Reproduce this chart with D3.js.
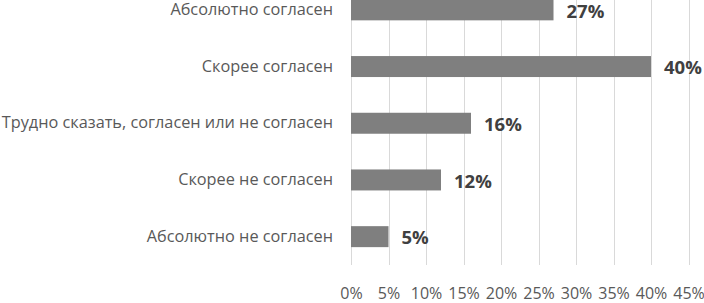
<!DOCTYPE html>
<html>
<head>
<meta charset="utf-8">
<script src="https://cdn.jsdelivr.net/npm/d3@7"></script>
<style>
  body { margin: 0; background: #fff; }
  svg { display: block; font-family: "Open Sans", sans-serif; }
</style>
</head>
<body>
<svg id="chart"></svg>
<script>
const categories = ["Абсолютно согласен", "Скорее согласен", "Трудно сказать, согласен или не согласен", "Скорее не согласен", "Абсолютно не согласен"];
const values = [27, 40, 16, 12, 5];
const ticks = [0, 5, 10, 15, 20, 25, 30, 35, 40, 45];

const width = 704, height = 303;
const margin = {top: -18.5, left: 351, right: 15.5, bottom: 38};

const svg = d3.select("#chart").attr("width", width).attr("height", height);
const chart = svg.append("g").attr("transform", `translate(${margin.left}, ${margin.top})`);

const innerW = width - margin.left - margin.right;
const innerH = height - margin.top - margin.bottom;

const x = d3.scaleLinear().domain([0, 45]).range([0, innerW]);
const y = d3.scaleBand().domain(categories).range([0, innerH]).paddingInner(0.63).paddingOuter(0.315);

// gridlines
chart.append("g")
    .selectAll("line")
    .data(ticks)
    .join("line")
    .attr("x1", d => Math.round(x(d)) + 0.5)
    .attr("x2", d => Math.round(x(d)) + 0.5)
    .attr("y1", -margin.top)
    .attr("y2", innerH)
    .attr("stroke", "#d9d9d9")
    .attr("stroke-width", 1);

// bars
chart.selectAll("rect")
    .data(values)
    .join("rect")
    .attr("x", x(0))
    .attr("y", (d, i) => y(categories[i]))
    .attr("width", d => x(d))
    .attr("height", y.bandwidth())
    .attr("fill", "#7f7f7f");

// value labels
chart.selectAll("text.val")
    .data(values)
    .join("text")
    .attr("class", "val")
    .attr("x", d => x(d) + 13)
    .attr("y", (d, i) => y(categories[i]) + y.bandwidth() / 2 + 1)
    .attr("dy", "0.36em")
    .attr("fill", "#404040")
    .attr("font-size", "18.5px")
    .attr("font-weight", "bold")
    .text(d => d + "%");

// y axis
const yaxis = d3.axisLeft(y).tickSize(0).tickPadding(18);
const yg = chart.append("g").call(yaxis);
yg.select(".domain").remove();
yg.selectAll("text").attr("fill", "#595959").attr("font-size", "16.3px").attr("font-family", "Open Sans, sans-serif");

// x axis
const xaxis = d3.axisBottom(x).tickValues(ticks).tickSize(0).tickPadding(23).tickFormat(d => d + "%");
const xg = chart.append("g").attr("transform", `translate(0, ${innerH})`).call(xaxis);
xg.select(".domain").remove();
xg.selectAll("text").attr("fill", "#595959").attr("font-size", "16px").attr("font-family", "Open Sans, sans-serif");
</script>
</body>
</html>
